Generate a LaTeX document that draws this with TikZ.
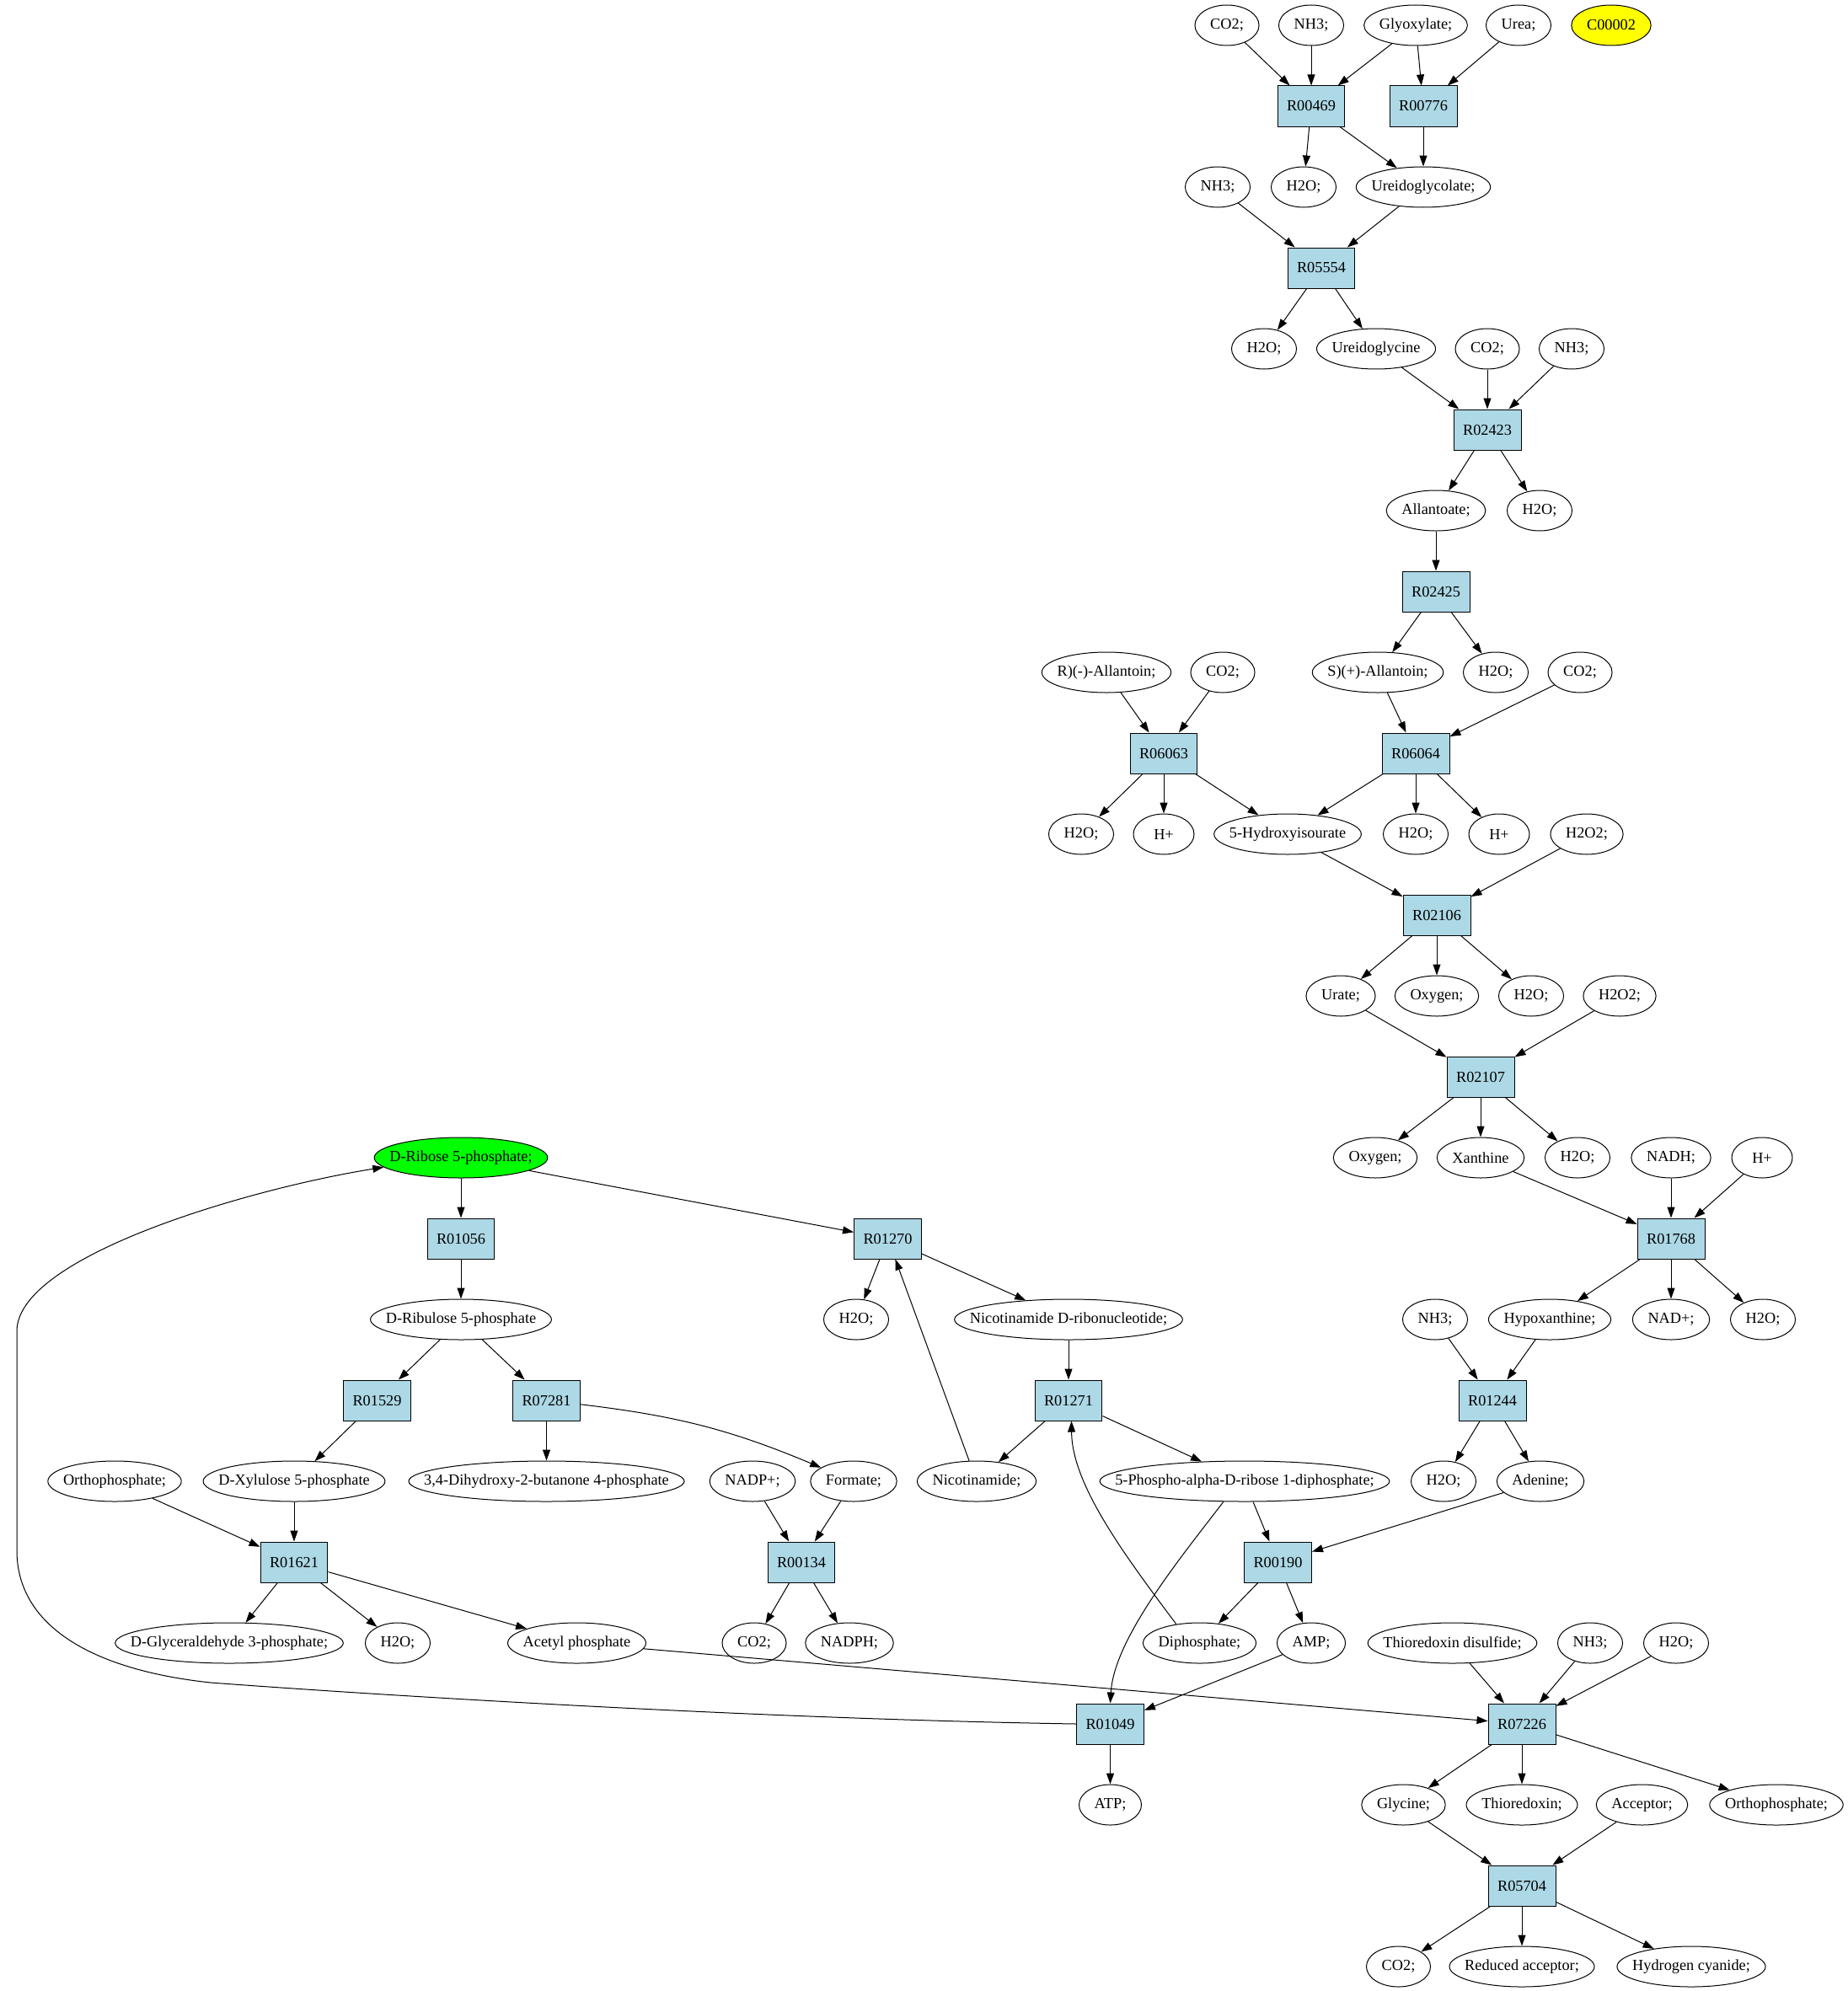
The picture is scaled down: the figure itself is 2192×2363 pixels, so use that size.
\documentclass[tikz,border=0pt]{standalone}
\usepackage{fontspec}
\setmainfont{Liberation Serif}
\usetikzlibrary{arrows.meta,shapes.geometric,calc}
\definecolor{rxnblue}{HTML}{ADD8E6}
\definecolor{cyel}{HTML}{FFFF00}
\definecolor{cgreen}{HTML}{00FF00}
\newcommand\nf{\fontsize{18.3pt}{22pt}\selectfont}
\newcommand\E[5][]{%
  \node[ghost] (#2t) at (#3,#4) {\phantom{#5}};
  \path let \p1=($(#2t.east)-(#2t.west)$) in
    node[ell,minimum width={max(72pt,\x1)},#1] (#2) at (#3,#4) {\makebox[0pt]{#5}};}
\tikzset{
 ghost/.style={rectangle, draw=none, inner xsep=18pt, inner ysep=0pt, font=\nf},
 ell/.style={ellipse, draw, line width=1pt, inner xsep=0pt, inner ysep=0pt, minimum height=48pt, font=\nf},
 rxn/.style={rectangle, draw, line width=1pt, fill=rxnblue, inner xsep=11pt, inner ysep=0pt, minimum width=72pt, minimum height=48pt, font=\nf},
 arr/.style={-{Triangle[length=13pt,width=9pt]}, line width=1pt},
}
\begin{document}
\begin{tikzpicture}[x=1pt,y=-1pt]
\useasboundingbox (0,0) rectangle (2192,2363);
% rank 0
\E{co2a}{1456}{30}{CO2;}
\E{nh3a}{1556}{30}{NH3;}
\E{glyox}{1680}{30}{Glyoxylate;}
\E{urea}{1802}{30}{Urea;}
\E[fill=cyel]{c00002}{1912}{30}{C00002}
% rank 1
\node[rxn] (R00469) at (1556,126) {R00469};
\node[rxn] (R00776) at (1689,126) {R00776};
% rank 2
\E{nh3b}{1445}{222}{NH3;}
\E{h2oa}{1547}{222}{H2O;}
\E{uglc}{1689}{222}{Ureidoglycolate;}
% rank 3
\node[rxn] (R05554) at (1568,318) {R05554};
% rank 4
\E{h2ob}{1500}{414}{H2O;}
\E{ugly}{1633}{414}{Ureidoglycine}
\E{co2b}{1765}{414}{CO2;}
\E{nh3c}{1865}{414}{NH3;}
% rank 5
\node[rxn] (R02423) at (1765,510) {R02423};
% rank 6
\E{allan}{1704}{606}{Allantoate;}
\E{h2oc}{1827}{606}{H2O;}
% rank 7
\node[rxn] (R02425) at (1704,702) {R02425};
% rank 8
\E{rall}{1313}{798}{R)(-)-Allantoin;}
\E{co2c}{1451}{798}{CO2;}
\E{sall}{1635}{798}{S)(+)-Allantoin;}
\E{h2od}{1775}{798}{H2O;}
\E{co2d}{1875}{798}{CO2;}
% rank 9
\node[rxn] (R06063) at (1381,894) {R06063};
\node[rxn] (R06064) at (1680,894) {R06064};
% rank 10
\E{h2oe}{1283}{990}{H2O;}
\E{hpa}{1381}{990}{H+}
\E{hiu}{1528}{990}{5-Hydroxyisourate}
\E{h2of}{1680}{990}{H2O;}
\E{hpb}{1779}{990}{H+}
\E{h2o2a}{1883}{990}{H2O2;}
% rank 11
\node[rxn] (R02106) at (1705,1086) {R02106};
% rank 12
\E{urate}{1591}{1182}{Urate;}
\E{oxya}{1705}{1182}{Oxygen;}
\E{h2og}{1817}{1182}{H2O;}
\E{h2o2b}{1922}{1182}{H2O2;}
% rank 13
\node[rxn] (R02107) at (1757,1278) {R02107};
% rank 14
\E[fill=cgreen]{rib5p}{547}{1374}{D-Ribose 5-phosphate;}
\E{oxyb}{1632}{1374}{Oxygen;}
\E{xan}{1757}{1374}{Xanthine}
\E{h2oh}{1872}{1374}{H2O;}
\E{nadh}{1983}{1374}{NADH;}
\E{hpc}{2091}{1374}{H+}
% rank 15
\node[rxn] (R01056) at (547,1470) {R01056};
\node[rxn] (R01270) at (1053.5,1470) {R01270};
\node[rxn] (R01768) at (1983,1470) {R01768};
% rank 16
\E{ribu}{547}{1566}{D-Ribulose 5-phosphate}
\E{h2oi}{1016}{1566}{H2O;}
\E{nmn}{1268}{1566}{Nicotinamide D-ribonucleotide;}
\E{nh3d}{1703}{1566}{NH3;}
\E{hypox}{1839}{1566}{Hypoxanthine;}
\E{nad}{1983}{1566}{NAD+;}
\E{h2oj}{2092}{1566}{H2O;}
% rank 17
\node[rxn] (R01529) at (447.5,1662) {R01529};
\node[rxn] (R07281) at (648.5,1662) {R07281};
\node[rxn] (R01271) at (1268,1662) {R01271};
\node[rxn] (R01244) at (1771,1662) {R01244};
% rank 18
\E{orthoa}{136}{1758}{Orthophosphate;}
\E{xylu}{349}{1758}{D-Xylulose 5-phosphate}
\E{dhbp}{648.5}{1758}{3,4-Dihydroxy-2-butanone 4-phosphate}
\E{nadp}{893}{1758}{NADP+;}
\E{formate}{1013}{1758}{Formate;}
\E{nicot}{1159}{1758}{Nicotinamide;}
\E{prpp}{1477}{1758}{5-Phospho-alpha-D-ribose 1-diphosphate;}
\E{h2ok}{1713}{1758}{H2O;}
\E{aden}{1828}{1758}{Adenine;}
% rank 19
\node[rxn] (R01621) at (349,1854) {R01621};
\node[rxn] (R00134) at (951,1854) {R00134};
\node[rxn] (R00190) at (1516.5,1854) {R00190};
% rank 20
\E{gap}{272}{1950}{D-Glyceraldehyde 3-phosphate;}
\E{h2ol}{472}{1950}{H2O;}
\E{acp}{684.5}{1950}{Acetyl phosphate}
\E{co2e}{895}{1950}{CO2;}
\E{nadph}{1008}{1950}{NADPH;}
\E{diph}{1423.5}{1950}{Diphosphate;}
\E{amp}{1556}{1950}{AMP;}
\E{trxss}{1723.5}{1950}{Thioredoxin disulfide;}
\E{nh3e}{1887}{1950}{NH3;}
\E{h2om}{1989}{1950}{H2O;}
% rank 21
\node[rxn] (R01049) at (1317.5,2046) {R01049};
\node[rxn] (R07226) at (1806,2046) {R07226};
% rank 22
\E{atp}{1317.5}{2142}{ATP;}
\E{gly}{1665.5}{2142}{Glycine;}
\E{trx}{1806}{2142}{Thioredoxin;}
\E{acc}{1948.5}{2142}{Acceptor;}
\E{orthob}{2108}{2142}{Orthophosphate;}
% rank 23
\node[rxn] (R05704) at (1806,2238) {R05704};
% rank 24
\E{co2f}{1659.5}{2334}{CO2;}
\E{redacc}{1806}{2334}{Reduced acceptor;}
\E{hcn}{2007}{2334}{Hydrogen cyanide;}

% edges
\foreach \a/\b in {co2a/R00469, nh3a/R00469, glyox/R00469, glyox/R00776, urea/R00776,
  R00469/h2oa, R00469/uglc, R00776/uglc, nh3b/R05554, uglc/R05554,
  R05554/h2ob, R05554/ugly, ugly/R02423, co2b/R02423, nh3c/R02423,
  R02423/allan, R02423/h2oc, allan/R02425, R02425/sall, R02425/h2od,
  rall/R06063, co2c/R06063, sall/R06064, co2d/R06064,
  R06063/h2oe, R06063/hpa, R06063/hiu, R06064/hiu, R06064/h2of, R06064/hpb,
  hiu/R02106, h2o2a/R02106, R02106/urate, R02106/oxya, R02106/h2og,
  urate/R02107, h2o2b/R02107, R02107/oxyb, R02107/xan, R02107/h2oh,
  xan/R01768, nadh/R01768, hpc/R01768, R01768/hypox, R01768/nad, R01768/h2oj,
  nh3d/R01244, hypox/R01244, R01244/h2ok, R01244/aden, aden/R00190, prpp/R00190,
  R00190/diph, R00190/amp, amp/R01049, R01049/atp,
  rib5p/R01056, rib5p/R01270, R01056/ribu, ribu/R01529, ribu/R07281,
  R01529/xylu, R07281/dhbp, xylu/R01621, orthoa/R01621,
  R01621/gap, R01621/h2ol, R01621/acp, nadp/R00134, formate/R00134,
  R00134/co2e, R00134/nadph, R01270/h2oi, R01270/nmn, nicot/R01270,
  nmn/R01271, R01271/nicot, R01271/prpp, acp/R07226,
  trxss/R07226, nh3e/R07226, h2om/R07226, R07226/gly, R07226/trx, R07226/orthob,
  gly/R05704, acc/R05704, R05704/co2f, R05704/redacc, R05704/hcn}
  \draw[arr] (\a) -- (\b);
\draw[arr] (R07281) to[bend left=8] (formate);
\draw[arr] (diph.141) .. controls (1330,1840) and (1272,1760) .. ([xshift=3.5pt]R01271.south);
\draw[arr] (prpp.224) .. controls (1400,1850) and (1322,1945) .. (R01049.north);
\draw[arr] (R01049.west) .. controls (900,2040) and (450,2012) .. (250,1997)
  .. controls (110,1982) and (20,1930) .. (20,1840) -- (20,1580)
  .. controls (20,1490) and (300,1410) .. (rib5p.187);
\end{tikzpicture}
\end{document}
